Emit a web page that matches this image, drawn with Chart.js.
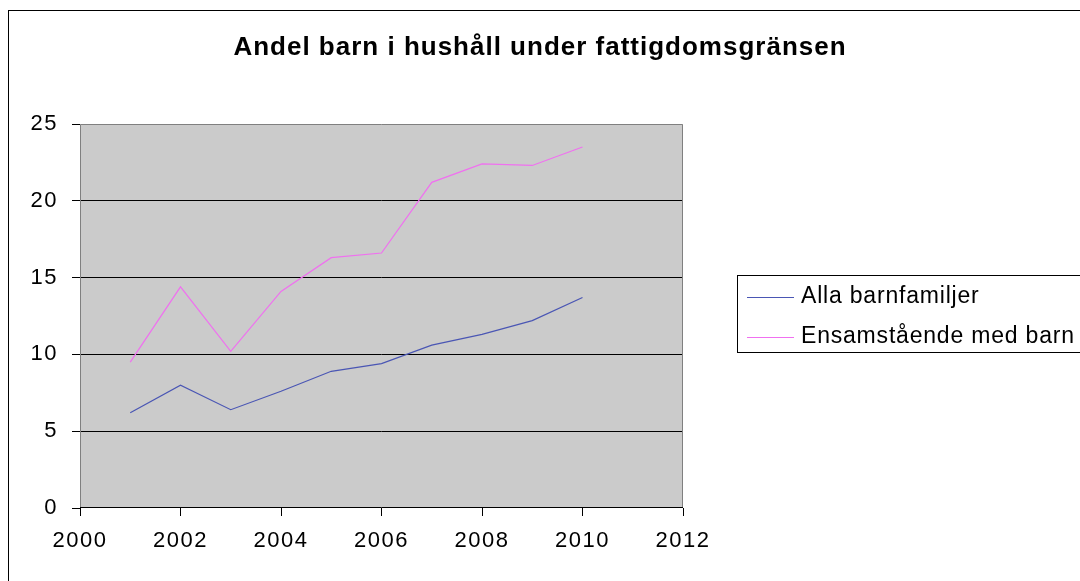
<!DOCTYPE html>
<html>
<head>
<meta charset="utf-8">
<script src="https://cdn.jsdelivr.net/npm/chart.js@4"></script>
<style>
  html, body { margin: 0; padding: 0; background: #fff; }
  canvas { display: block; }
</style>
</head>
<body>
<canvas id="chart" width="1080" height="581"></canvas>
<script>
// data
const years = [2001, 2002, 2003, 2004, 2005, 2006, 2007, 2008, 2009, 2010];
const allaBarnfamiljer = [6.2, 8.0, 6.4, 7.6, 8.9, 9.4, 10.6, 11.3, 12.2, 13.7];
const ensamstaende = [9.5, 14.4, 10.2, 14.1, 16.3, 16.6, 21.2, 22.4, 22.3, 23.5];
const seriesNames = ["Alla barnfamiljer", "Ensamstående med barn"];
const title = "Andel barn i hushåll under fattigdomsgränsen";

const FONT = "'Liberation Sans', Arial, sans-serif";

// gray plot area + borders, outer frame, title
const backdrop = {
  id: "backdrop",
  beforeDraw(chart) {
    const { ctx, chartArea: a } = chart;
    ctx.save();
    ctx.strokeStyle = "#000";
    ctx.lineWidth = 1;
    ctx.strokeRect(8.5, 10.5, 1200, 800);
    ctx.fillStyle = "#cbcbcb";
    ctx.fillRect(a.left, a.top, a.right - a.left, a.bottom - a.top);
    ctx.fillStyle = "#000";
    ctx.font = "bold 26px " + FONT;
    ctx.letterSpacing = "1px";
    ctx.textAlign = "center";
    ctx.textBaseline = "middle";
    ctx.fillText(title, 540, 48);
    ctx.restore();
    // wider tick text, like the original
    ctx.letterSpacing = "1.5px";
  },
  afterDatasetsDraw(chart) {
    const { ctx, chartArea: a } = chart;
    ctx.save();
    ctx.strokeStyle = "#808080";
    ctx.lineWidth = 1;
    ctx.beginPath();
    ctx.moveTo(a.left + 0.5, a.bottom);
    ctx.lineTo(a.left + 0.5, a.top + 0.5);
    ctx.lineTo(a.right - 0.5, a.top + 0.5);
    ctx.lineTo(a.right - 0.5, a.bottom);
    ctx.stroke();
    ctx.strokeStyle = "#000";
    ctx.beginPath();
    ctx.moveTo(a.left, a.bottom - 0.5);
    ctx.lineTo(a.right, a.bottom - 0.5);
    ctx.stroke();
    ctx.restore();
  }
};

// boxed legend on the right
const boxLegend = {
  id: "boxLegend",
  afterDraw(chart) {
    const { ctx } = chart;
    ctx.save();
    ctx.strokeStyle = "#000";
    ctx.lineWidth = 1;
    ctx.strokeRect(737.5, 275.5, 400, 77);
    ctx.font = "23px " + FONT;
    ctx.letterSpacing = "0.8px";
    ctx.textBaseline = "middle";
    chart.data.datasets.forEach((ds, i) => {
      const y = 297 + i * 40;
      ctx.strokeStyle = ds.borderColor;
      ctx.beginPath();
      ctx.moveTo(747, y + 0.5);
      ctx.lineTo(794, y + 0.5);
      ctx.stroke();
      ctx.fillStyle = "#000";
      ctx.fillText(ds.label, 801, y);
    });
    ctx.restore();
    ctx.letterSpacing = "0px";
  }
};

new Chart(document.getElementById("chart"), {
  type: "line",
  data: {
    datasets: [
      {
        label: seriesNames[0],
        data: years.map((y, i) => ({ x: y, y: allaBarnfamiljer[i] })),
        borderColor: "#4a56b4",
        borderWidth: 1.2,
        pointRadius: 0,
        tension: 0,
      },
      {
        label: seriesNames[1],
        data: years.map((y, i) => ({ x: y, y: ensamstaende[i] })),
        borderColor: "#f070f0",
        borderWidth: 1.2,
        pointRadius: 0,
        tension: 0,
      },
    ],
  },
  options: {
    responsive: false,
    animation: false,
    layout: { padding: { top: 124, right: 397, left: 0, bottom: 0 } },
    plugins: {
      legend: { display: false },
      title: { display: false },
      tooltip: { enabled: false },
    },
    scales: {
      x: {
        type: "linear",
        min: 2000,
        max: 2012,
        afterFit(s) { s.height = 73; },
        ticks: {
          stepSize: 2,
          color: "#000",
          padding: 12,
          font: { family: FONT, size: 22 },
          callback: v => String(v),
        },
        grid: { drawOnChartArea: false, tickLength: 8, tickColor: "#000" },
        border: { display: false },
      },
      y: {
        min: 0,
        max: 25,
        afterFit(s) { s.width = 80; },
        ticks: {
          stepSize: 5,
          color: "#000",
          padding: 14,
          font: { family: FONT, size: 22 },
        },
        grid: {
          tickLength: 8,
          tickColor: "#000",
          color: c => (c.tick && (c.tick.value === 0 || c.tick.value === 25)) ? "rgba(0,0,0,0)" : "#000",
        },
        border: { display: false },
      },
    },
  },
  plugins: [backdrop, boxLegend],
});
</script>
</body>
</html>
